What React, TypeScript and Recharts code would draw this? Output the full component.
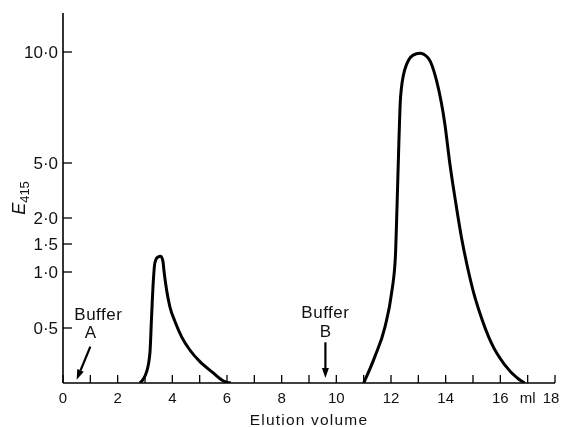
import React from "react";
import { LineChart, Line, XAxis, YAxis, ReferenceLine, Label } from "recharts";

// ---- data (elution volume in ml, absorbance E415) ----
const volumeA = [2.815, 3.06, 3.18, 3.24, 3.3, 3.36, 3.45, 3.58, 3.66, 3.69, 3.79, 3.91, 4.1, 4.34, 4.64, 5.01, 5.44, 5.92, 6.14];
const absorbA = [0, 0.103, 0.273, 0.598, 0.902, 1.16, 1.26, 1.28, 1.18, 1.04, 0.84, 0.69, 0.556, 0.42, 0.3, 0.194, 0.103, 0.012, 0];

const volumeB = [11.0, 11.41, 11.78, 12.02, 12.16, 12.22, 12.29, 12.35, 12.5, 12.81, 13.05, 13.36, 13.66, 13.97, 14.15, 14.37, 14.58, 14.82, 15.04, 15.25, 15.67, 16.16, 16.77, 16.89];
const absorbB = [0, 0.24, 0.51, 0.81, 1.27, 2.6, 6.0, 7.97, 9.19, 9.86, 9.94, 9.73, 8.74, 6.76, 5.0, 2.82, 1.62, 1.04, 0.8, 0.634, 0.364, 0.164, 0.018, 0];

const xTicks = [0, 1, 2, 3, 4, 5, 6, 7, 8, 9, 10, 11, 12, 13, 14, 15, 16, 17, 18];
const xTickLabels = ["0", "", "2", "", "4", "", "6", "", "8", "", "10", "", "12", "", "14", "", "16", "ml", "18"];

const yTickValues = [0.5, 1.0, 1.5, 2.0, 5.0, 10.0];
const yTickLabels = ["0·5", "1·0", "1·5", "2·0", "5·0", "10·0"];

// annotations: [volume, E415] of arrow tail and head
const bufferA = { tail: [1.0, 0.33], head: [0.5, 0.03], letter: "A" };
const bufferB = { tail: [9.6, 0.37], head: [9.6, 0.045], letter: "B" };

// ---- the original chart's non-uniform E415 axis (breakpoints of the scale) ----
const scaleValues = [0, 0.5, 1, 1.5, 2, 5, 10, 11.67];
const scaleUnits = [0, 55, 111, 139, 165, 220, 331, 370];
function toAxis(v: number): number {
  for (let i = 1; i < scaleValues.length; i++) {
    if (v <= scaleValues[i]) {
      const t = (v - scaleValues[i - 1]) / (scaleValues[i] - scaleValues[i - 1]);
      return scaleUnits[i - 1] + t * (scaleUnits[i] - scaleUnits[i - 1]);
    }
  }
  return scaleUnits[scaleUnits.length - 1];
}

const dataA = volumeA.map((ml, i) => ({ ml, e: toAxis(absorbA[i]) }));
const dataB = volumeB.map((ml, i) => ({ ml, e: toAxis(absorbB[i]) }));
const yTicks = yTickValues.map(toAxis);

const FONT = "'Liberation Sans', Arial, sans-serif";

const YTick = (props: any) => {
  const { x, y, payload } = props;
  const idx = yTicks.findIndex((t) => Math.abs(t - payload.value) < 1e-6);
  return (
    <g>
      <line x1={x + 5} x2={x + 14} y1={y} y2={y} stroke="#000" strokeWidth={1.3} />
      <text x={x} y={y} dy={6} textAnchor="end" fontFamily={FONT} fontSize={17} fill="#111">
        {idx >= 0 ? yTickLabels[idx] : ""}
      </text>
    </g>
  );
};

const XTick = (props: any) => {
  const { x, y, payload } = props;
  const idx = xTicks.indexOf(payload.value);
  const last = idx === xTicks.length - 1;
  return (
    <g>
      <line x1={x} x2={x} y1={y} y2={y - 8} stroke="#000" strokeWidth={1.3} />
      <text x={x} y={y + 20} dx={last ? -4 : 0} textAnchor="middle" fontFamily={FONT} fontSize={15} fill="#111">
        {idx >= 0 ? xTickLabels[idx] : ""}
      </text>
    </g>
  );
};

const YLabel = (props: any) => {
  const vb = props.viewBox || { x: 5, y: 5, width: 50, height: 370 };
  const cx = vb.x + 12;
  const cy = vb.y + vb.height / 2;
  return (
    <text x={cx} y={cy} transform={`rotate(-90 ${cx} ${cy})`} textAnchor="middle" fontFamily={FONT} fill="#111">
      <tspan fontSize={18} fontStyle="italic">E</tspan>
      <tspan fontSize={13} dy={4}>415</tspan>
    </text>
  );
};

const XLabel = (props: any) => {
  const vb = props.viewBox || { x: 55, y: 375, width: 492, height: 40 };
  return (
    <text x={vb.x + vb.width / 2} y={vb.y + 42} textAnchor="middle" fontFamily={FONT} fontSize={15.5} letterSpacing={1.2} fill="#111">
      Elution volume
    </text>
  );
};

const makeArrow = (letter: string, textDx: number, textDy: number, letterDy: number) => (p: any) => {
  const { x1, y1, x2, y2 } = p;
  const dx = x2 - x1;
  const dy = y2 - y1;
  const len = Math.sqrt(dx * dx + dy * dy) || 1;
  const ux = dx / len;
  const uy = dy / len;
  const hl = 10;
  const hw = 3.5;
  const bx = x2 - ux * hl;
  const by = y2 - uy * hl;
  const pts = `${x2},${y2} ${bx - uy * hw},${by + ux * hw} ${bx + uy * hw},${by - ux * hw}`;
  return (
    <g>
      <line x1={x1} y1={y1} x2={bx} y2={by} stroke="#000" strokeWidth={2.2} />
      <polygon points={pts} fill="#000" />
      <text x={x1 + textDx} y={y1 + textDy} textAnchor="middle" fontFamily={FONT} fontSize={17} letterSpacing={0.5} fill="#111">
        Buffer
      </text>
      <text x={x1} y={y1 + letterDy} textAnchor="middle" fontFamily={FONT} fontSize={17} fill="#111">
        {letter}
      </text>
    </g>
  );
};

export default function App() {
  return (
    <div style={{ position: "fixed", left: 8, top: 8, width: 554, height: 419 }}>
      <LineChart width={554} height={419} margin={{ top: 5, right: 7, bottom: 4, left: 5 }}>
        <XAxis
          type="number"
          dataKey="ml"
          domain={[0, 18]}
          ticks={xTicks}
          interval={0}
          tickSize={0}
          tickMargin={0}
          tick={<XTick />}
          axisLine={{ stroke: "#000", strokeWidth: 1.6 }}
          height={40}
          allowDataOverflow
        >
          <Label content={<XLabel />} />
        </XAxis>
        <YAxis
          type="number"
          domain={[0, 370]}
          ticks={yTicks}
          interval={0}
          tickSize={0}
          tickMargin={5}
          tick={<YTick />}
          axisLine={{ stroke: "#000", strokeWidth: 1.6 }}
          width={50}
          allowDataOverflow
        >
          <Label content={<YLabel />} />
        </YAxis>
        <Line
          data={dataA}
          dataKey="e"
          type="monotone"
          stroke="#000"
          strokeWidth={3}
          dot={false}
          isAnimationActive={false}
        />
        <Line
          data={dataB}
          dataKey="e"
          type="monotone"
          stroke="#000"
          strokeWidth={3}
          dot={false}
          isAnimationActive={false}
        />
        <ReferenceLine
          segment={[
            { x: bufferA.tail[0], y: toAxis(bufferA.tail[1]) },
            { x: bufferA.head[0], y: toAxis(bufferA.head[1]) },
          ]}
          ifOverflow="visible"
          shape={makeArrow(bufferA.letter, 8, -27, -9)}
        />
        <ReferenceLine
          segment={[
            { x: bufferB.tail[0], y: toAxis(bufferB.tail[1]) },
            { x: bufferB.head[0], y: toAxis(bufferB.head[1]) },
          ]}
          ifOverflow="visible"
          shape={makeArrow(bufferB.letter, 0, -24, -5)}
        />
      </LineChart>
    </div>
  );
}
